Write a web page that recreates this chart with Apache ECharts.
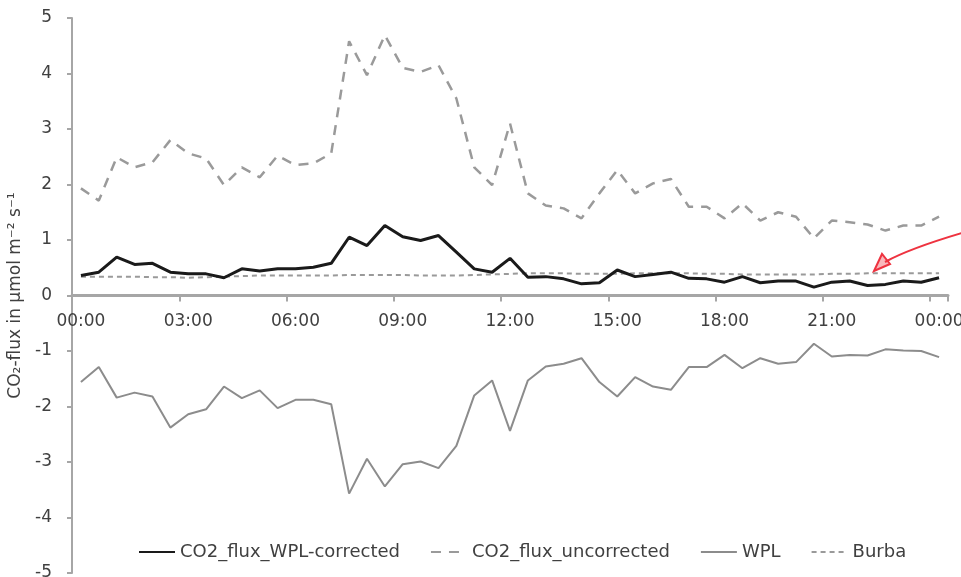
<!DOCTYPE html>
<html><head><meta charset="utf-8">
<script src="https://cdn.jsdelivr.net/npm/echarts@6/dist/echarts.min.js"></script>
<style>html,body{margin:0;padding:0;background:#fff}#c{width:961px;height:577px}</style>
</head><body><div id="c"></div>
<script>
const times = ["00:00","00:30","01:00","01:30","02:00","02:30","03:00","03:30","04:00","04:30","05:00","05:30","06:00","06:30","07:00","07:30","08:00","08:30","09:00","09:30","10:00","10:30","11:00","11:30","12:00","12:30","13:00","13:30","14:00","14:30","15:00","15:30","16:00","16:30","17:00","17:30","18:00","18:30","19:00","19:30","20:00","20:30","21:00","21:30","22:00","22:30","23:00","23:30","00:00"];
const corrected = [0.36,0.42,0.69,0.56,0.58,0.42,0.39,0.39,0.32,0.48,0.44,0.48,0.48,0.51,0.58,1.05,0.90,1.26,1.06,0.99,1.08,0.78,0.48,0.42,0.67,0.33,0.34,0.30,0.21,0.23,0.46,0.34,0.38,0.42,0.31,0.30,0.24,0.34,0.23,0.26,0.26,0.15,0.24,0.26,0.18,0.20,0.26,0.24,0.32];
const uncorrected = [1.93,1.71,2.49,2.31,2.40,2.80,2.56,2.47,1.99,2.31,2.13,2.52,2.35,2.38,2.56,4.58,3.97,4.69,4.10,4.03,4.15,3.55,2.31,1.99,3.10,1.84,1.62,1.57,1.39,1.84,2.26,1.84,2.02,2.10,1.60,1.60,1.39,1.66,1.35,1.50,1.42,1.03,1.35,1.32,1.28,1.17,1.26,1.26,1.42];
const wpl = [-1.56,-1.29,-1.84,-1.75,-1.82,-2.38,-2.14,-2.05,-1.64,-1.85,-1.71,-2.03,-1.88,-1.88,-1.96,-3.57,-2.94,-3.44,-3.04,-2.99,-3.11,-2.71,-1.80,-1.53,-2.44,-1.53,-1.28,-1.23,-1.13,-1.56,-1.82,-1.47,-1.64,-1.70,-1.29,-1.29,-1.07,-1.31,-1.13,-1.23,-1.20,-0.87,-1.10,-1.07,-1.08,-0.97,-0.99,-1.00,-1.11];
const burba = [0.34,0.34,0.34,0.34,0.33,0.33,0.32,0.33,0.34,0.35,0.36,0.36,0.36,0.36,0.36,0.37,0.37,0.37,0.37,0.36,0.36,0.36,0.37,0.38,0.39,0.40,0.40,0.40,0.39,0.39,0.39,0.40,0.40,0.40,0.40,0.39,0.39,0.38,0.38,0.38,0.38,0.38,0.39,0.39,0.40,0.40,0.40,0.40,0.40];
const seriesNames = ["CO2_flux_WPL-corrected","CO2_flux_uncorrected","WPL","Burba"];
const yName = "CO\u2082-flux in \u00b5mol m\u207b\u00b2 s\u207b\u00b9";
const yTicks = [-5,-4,-3,-2,-1,0,1,2,3,4,5];

const FONT = "DejaVu Sans";
const TXT = "#404040";
const GRID_TOP = 18, GRID_BOTTOM = 4, H = 577;
const plotH = H - GRID_TOP - GRID_BOTTOM;
const yMin = yTicks[0], yMax = yTicks[yTicks.length-1];
// distance from bottom of grid to the zero line, in px
const zeroOffset = plotH * (0 - yMin) / (yMax - yMin);

const chart = echarts.init(document.getElementById('c'), null, {renderer:'canvas'});
chart.setOption({
  animation:false,
  backgroundColor:'#fff',
  textStyle:{fontFamily:FONT},
  grid:{left:72,right:13,top:GRID_TOP,bottom:GRID_BOTTOM,containLabel:false,outerBoundsMode:'none'},
  legend:{
    left:133, top:538, itemWidth:36, itemHeight:14, itemGap:30,
    textStyle:{fontFamily:FONT,fontSize:18,color:TXT},
    itemStyle:{opacity:0, borderWidth:0},
    data:seriesNames
  },
  xAxis:{
    type:'category', data:times, boundaryGap:true, position:'bottom', offset:-zeroOffset,
    axisLine:{onZero:false,lineStyle:{color:'#a6a6a6',width:3}},
    axisTick:{show:true,interval:5,alignWithLabel:false,length:6,lineStyle:{color:'#a6a6a6',width:2}},
    axisLabel:{interval:5,margin:18,fontFamily:FONT,fontSize:17,color:TXT},
    splitLine:{show:false}
  },
  yAxis:{
    type:'value', min:yMin, max:yMax, interval:1,
    name:yName, nameLocation:'middle', nameGap:46, nameRotate:90,
    nameTextStyle:{fontFamily:FONT,fontSize:17,color:TXT},
    axisLine:{show:true,lineStyle:{color:'#a6a6a6',width:2}},
    axisTick:{show:true,length:5,lineStyle:{color:'#a6a6a6',width:2}},
    axisLabel:{margin:20,fontFamily:FONT,fontSize:17,color:TXT},
    splitLine:{show:false}
  },
  series:[
    {name:seriesNames[0],type:'line',data:corrected,symbol:'none',z:5,
     lineStyle:{color:'#1a1a1a',width:3},itemStyle:{color:'#1a1a1a'}},
    {name:seriesNames[1],type:'line',data:uncorrected,symbol:'none',z:3,
     lineStyle:{color:'#9a9a9a',width:2.5,type:[10,8]},itemStyle:{color:'#9a9a9a'}},
    {name:seriesNames[2],type:'line',data:wpl,symbol:'none',z:3,
     lineStyle:{color:'#8c8c8c',width:2},itemStyle:{color:'#8c8c8c'}},
    {name:seriesNames[3],type:'line',data:burba,symbol:'none',z:4,
     lineStyle:{color:'#9a9a9a',width:2,type:[5,4]},itemStyle:{color:'#9a9a9a'}}
  ],
  graphic:[
    {type:'bezierCurve',z:10,shape:{x1:962,y1:233,x2:885,y2:262,cpx1:935,cpy1:241,cpx2:905,cpy2:251},
     style:{stroke:'#ee3340',lineWidth:2,fill:null}},
    {type:'polygon',z:10,shape:{points:[[874,271],[882,254],[890,264]]},
     style:{stroke:'#ee3340',lineWidth:2,fill:'rgba(238,51,64,0.35)'}}
  ]
});
</script></body></html>
